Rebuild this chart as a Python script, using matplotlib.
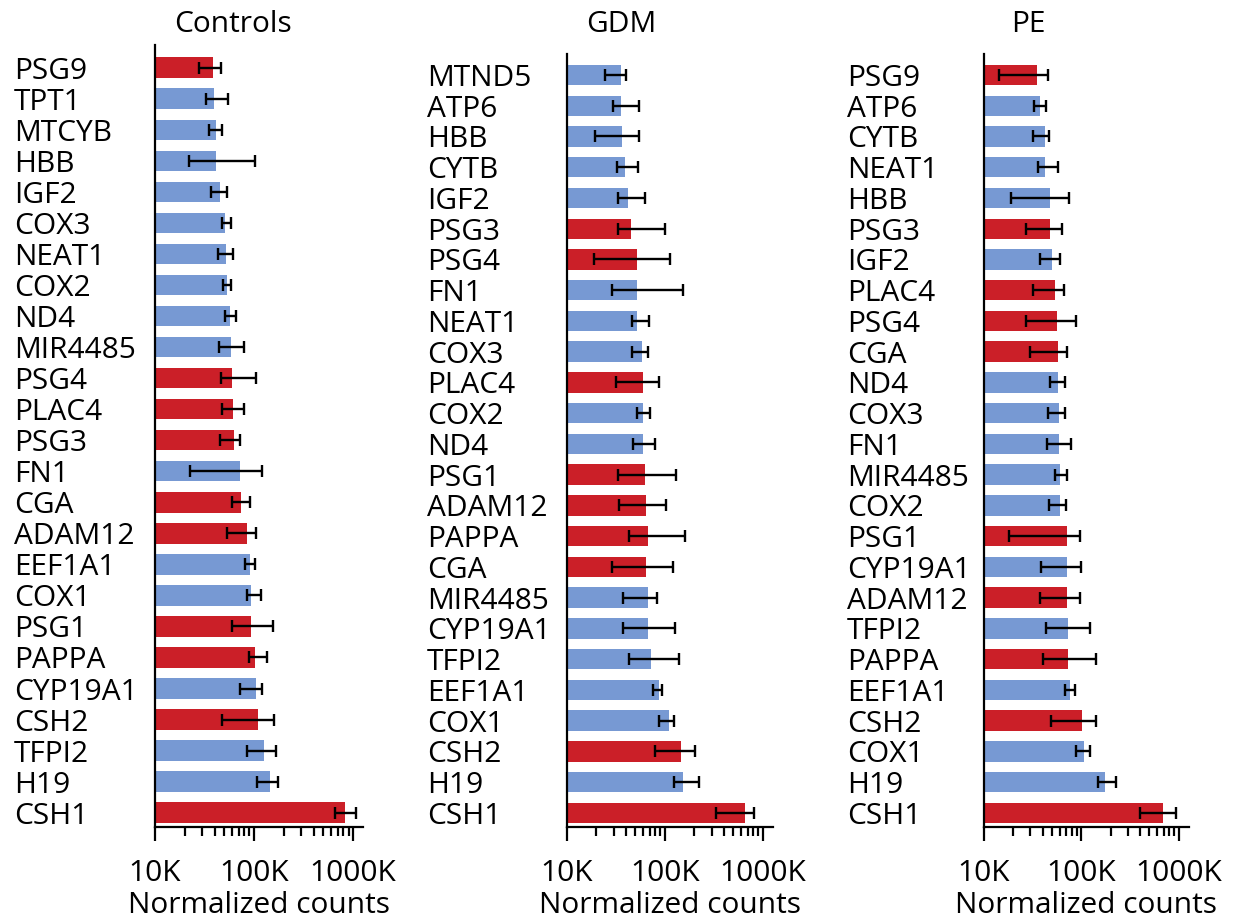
import numpy as np
import matplotlib
matplotlib.use("Agg")
import matplotlib.pyplot as plt
from matplotlib.ticker import FixedLocator, LogLocator, NullFormatter

plt.rcParams['font.family'] = ['Open Sans', 'DejaVu Sans']

# placenta-specific genes drawn in red
red_genes = ["PSG9", "PSG4", "PLAC4", "PSG3", "CGA", "ADAM12", "PSG1", "PAPPA", "CSH2", "CSH1"]

# values in thousands of normalized counts, listed top to bottom
ctrl_genes = ["PSG9", "TPT1", "MTCYB", "HBB", "IGF2", "COX3", "NEAT1", "COX2", "ND4", "MIR4485",
              "PSG4", "PLAC4", "PSG3", "FN1", "CGA", "ADAM12", "EEF1A1", "COX1", "PSG1", "PAPPA",
              "CYP19A1", "CSH2", "TFPI2", "H19", "CSH1"]
ctrl_val = [38.8, 39.4, 41, 41, 45, 51, 52, 53, 57, 58, 60, 61, 63, 72, 74, 85, 92, 93, 94, 103,
            105, 110, 127, 145, 838]
ctrl_lo = [28, 33, 35, 22, 36.5, 47, 43, 49, 51, 44, 46, 47, 45, 22.6, 60, 53, 81, 85, 60, 88,
           73, 48, 84, 108, 663]
ctrl_hi = [46, 55, 47, 102, 53, 58, 62, 59, 66, 80, 105, 80, 73, 119, 91, 105, 102, 118, 157, 134,
           120, 159, 167, 176, 1070]

gdm_genes = ["MTND5", "ATP6", "HBB", "CYTB", "IGF2", "PSG3", "PSG4", "FN1", "NEAT1", "COX3",
             "PLAC4", "COX2", "ND4", "PSG1", "ADAM12", "PAPPA", "CGA", "MIR4485", "CYP19A1",
             "TFPI2", "EEF1A1", "COX1", "CSH2", "H19", "CSH1"]
gdm_val = [35.7, 35.7, 36.3, 38.9, 42.5, 45, 52, 51.7, 51.7, 58.6, 59.5, 59.5, 59.5, 62.4, 63.9,
           66.5, 63.9, 67.5, 67.5, 73, 87.5, 110, 146, 152, 659]
gdm_lo = [24.5, 29.4, 19.4, 32.7, 33.5, 33.5, 19, 29, 46, 46, 32, 51.7, 47, 33.5, 34, 42.8, 28.7,
          37.7, 37.2, 43, 75, 88, 79, 125, 333]
gdm_hi = [39.9, 54, 54, 53, 63, 100, 114, 154, 69, 68, 87, 70.8, 79, 129, 102, 161, 121, 84, 126,
          140, 93, 125, 203, 221, 822]

pe_genes = ["PSG9", "ATP6", "CYTB", "NEAT1", "HBB", "PSG3", "IGF2", "PLAC4", "PSG4", "CGA", "ND4",
            "COX3", "FN1", "MIR4485", "COX2", "PSG1", "CYP19A1", "ADAM12", "TFPI2", "PAPPA",
            "EEF1A1", "CSH2", "COX1", "H19", "CSH1"]
pe_val = [34.9, 38, 42, 42, 47.8, 48, 50.5, 53.7, 56.3, 57.7, 57.7, 58.6, 59, 60, 61, 70.8, 70.8,
          70.8, 73, 73.6, 77, 102, 107, 173, 692]
pe_lo = [14.2, 33, 32, 35.7, 18.9, 26.7, 38, 31.5, 26.9, 29.6, 47.8, 45.9, 44, 53, 46.3, 18, 38.9,
         37.4, 43.5, 40.2, 68, 48.9, 87.5, 148, 402]
pe_hi = [45.9, 43.5, 46.7, 57, 74.8, 63.4, 60, 65.9, 87.5, 71.9, 68.5, 68, 79, 70.8, 69, 96, 99,
         97.7, 122, 142, 86, 142, 124, 228, 940]

titles = ["Controls", "GDM", "PE"]
red = "#CB1F28"
blue = "#7799D3"
fs = 21.5

fig = plt.figure(figsize=(12.37, 9.19), dpi=100)

panels = [
    (ctrl_genes, ctrl_val, ctrl_lo, ctrl_hi, [155, 208, 827, 45], 101.5, 0.73),
    (gdm_genes, gdm_val, gdm_lo, gdm_hi, [567, 205.5, 827, 54], 101, 0.68),
    (pe_genes, pe_val, pe_lo, pe_hi, [984, 204.5, 827, 54], 98.5, 0.68),
]
title_x = [233, 621, 1028]

W, H = 1237, 919
for k, (genes, val, lo, hi, box, pad, topm) in enumerate(panels):
    x0, w, yb, yt = box
    ax = fig.add_axes([x0 / W, (H - yb) / H, w / W, (yb - yt) / H])
    n = len(genes)
    y = np.arange(n)[::-1]
    v = np.array(val) * 1e3
    l = np.array(lo) * 1e3
    h = np.array(hi) * 1e3
    cols = [red if g in red_genes else blue for g in genes]
    ax.set_xscale("log")
    ax.barh(y, v - 1e4, left=1e4, height=0.66, color=cols, zorder=1)
    ax.errorbar(v, y, xerr=[v - l, h - v], fmt="none", ecolor="black",
                elinewidth=1.7, capsize=4.5, capthick=1.7, zorder=2)
    ax.set_xlim(1e4, 1.26e6)
    ax.set_ylim(-0.46, n - 1 + topm)
    ax.set_yticks(y)
    ax.set_yticklabels(genes, fontsize=fs, ha="left")
    ax.tick_params(axis="y", length=0, pad=pad)
    ax.xaxis.set_major_locator(FixedLocator([1e4, 1e5, 1e6]))
    ax.set_xticklabels(["10K", "100K", "1000K"], fontsize=fs)
    ax.xaxis.set_minor_locator(LogLocator(base=10, subs=np.arange(2, 10)))
    ax.xaxis.set_minor_formatter(NullFormatter())
    ax.tick_params(axis="x", which="major", length=10, width=1.6, direction="out", pad=13)
    ax.tick_params(axis="x", which="minor", length=6.5, width=1.6, direction="out")
    for s in ["top", "right"]:
        ax.spines[s].set_visible(False)
    for s in ["left", "bottom"]:
        ax.spines[s].set_linewidth(1.6)
    ax.set_xlabel("Normalized counts", fontsize=fs, labelpad=2)
    fig.text(title_x[k] / W, (H - 25) / H, titles[k], fontsize=fs, ha="center", va="center")

fig.savefig("out.png", dpi=100)
